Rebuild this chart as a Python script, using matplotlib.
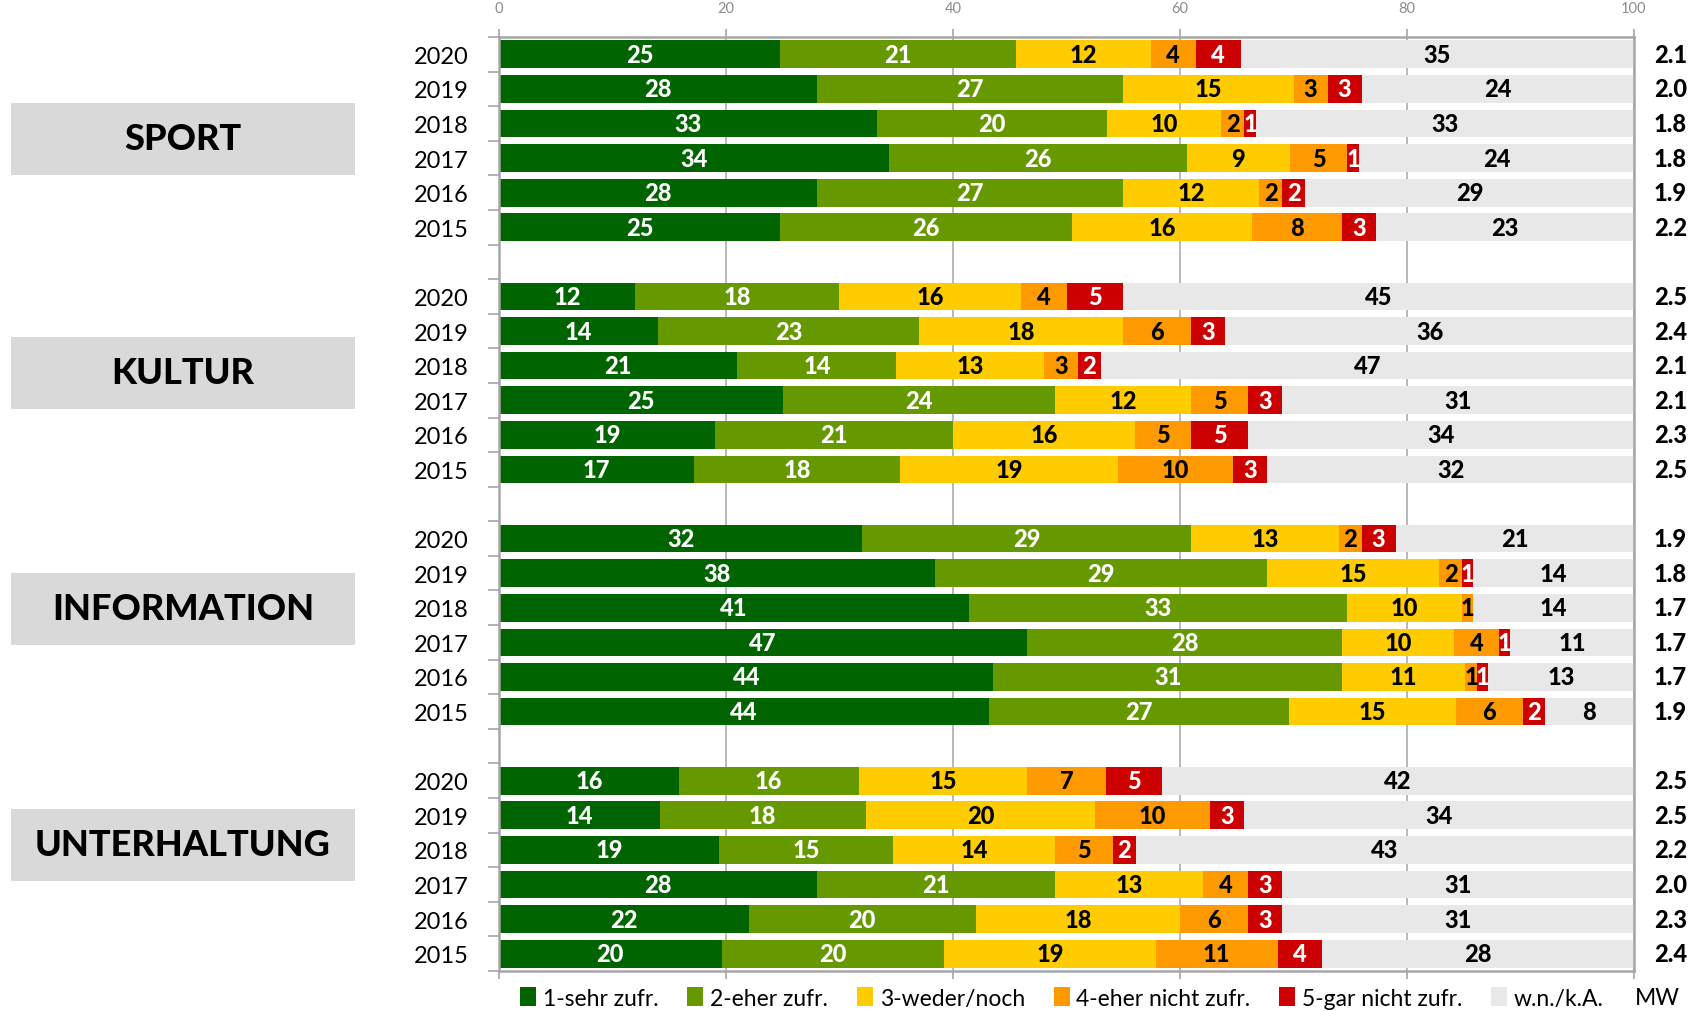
import numpy as np
import matplotlib.pyplot as plt
from matplotlib.patches import Rectangle, Patch

plt.rcParams['font.family'] = ['Lato', 'DejaVu Sans']

# answer categories and colours
answers = ['1-sehr zufr.', '2-eher zufr.', '3-weder/noch', '4-eher nicht zufr.',
           '5-gar nicht zufr.', 'w.n./k.A.']
colors = ['#006400', '#669900', '#ffcc00', '#ff9900', '#cc0000', '#e8e8e8']
text_colors = ['white', 'white', 'black', 'black', 'white', 'black']

groups = ['SPORT', 'KULTUR', 'INFORMATION', 'UNTERHALTUNG']
years = ['2020', '2019', '2018', '2017', '2016', '2015']

sport = [[25, 21, 12, 4, 4, 35],
         [28, 27, 15, 3, 3, 24],
         [33, 20, 10, 2, 1, 33],
         [34, 26, 9, 5, 1, 24],
         [28, 27, 12, 2, 2, 29],
         [25, 26, 16, 8, 3, 23]]
kultur = [[12, 18, 16, 4, 5, 45],
          [14, 23, 18, 6, 3, 36],
          [21, 14, 13, 3, 2, 47],
          [25, 24, 12, 5, 3, 31],
          [19, 21, 16, 5, 5, 34],
          [17, 18, 19, 10, 3, 32]]
information = [[32, 29, 13, 2, 3, 21],
               [38, 29, 15, 2, 1, 14],
               [41, 33, 10, 1, 0, 14],
               [47, 28, 10, 4, 1, 11],
               [44, 31, 11, 1, 1, 13],
               [44, 27, 15, 6, 2, 8]]
unterhaltung = [[16, 16, 15, 7, 5, 42],
                [14, 18, 20, 10, 3, 34],
                [19, 15, 14, 5, 2, 43],
                [28, 21, 13, 4, 3, 31],
                [22, 20, 18, 6, 3, 31],
                [20, 20, 19, 11, 4, 28]]

mw_sport = [2.1, 2.0, 1.8, 1.8, 1.9, 2.2]
mw_kultur = [2.5, 2.4, 2.1, 2.1, 2.3, 2.5]
mw_information = [1.9, 1.8, 1.7, 1.7, 1.7, 1.9]
mw_unterhaltung = [2.5, 2.5, 2.2, 2.0, 2.3, 2.4]

all_data = [sport, kultur, information, unterhaltung]
all_mw = [mw_sport, mw_kultur, mw_information, mw_unterhaltung]

fig = plt.figure(figsize=(16.9, 10.12), dpi=100)
W, H = 1690, 1012
ax = fig.add_axes([499 / W, 1 - 972 / H, (1634 - 499) / W, (972 - 38) / H])

ypos = []
ylabels = []
row = 0
for g, data in enumerate(all_data):
    for i, vals in enumerate(data):
        vals = np.array(vals, dtype=float)
        widths = vals * 100.0 / vals.sum()
        left = 0.0
        for k in range(6):
            ax.barh(row, widths[k], left=left, height=0.8, color=colors[k],
                    edgecolor='none', zorder=2)
            if vals[k] > 0:
                ax.text(left + widths[k] / 2, row, '%d' % vals[k], ha='center',
                        va='center', fontsize=17, fontweight='black',
                        color=text_colors[k], zorder=3)
            left += widths[k]
        ax.text(103.2, row, '%.1f' % all_mw[g][i], ha='center', va='center',
                fontsize=17, fontweight='black', clip_on=False)
        ypos.append(row)
        ylabels.append(years[i])
        row += 1
    row += 1  # empty row between groups

ax.set_ylim(row - 1.5, -0.5)
ax.set_xlim(0, 100)
ax.set_yticks(ypos)
ax.set_yticklabels(ylabels, fontsize=17)
ax.set_yticks(np.arange(-0.5, row - 1, 1), minor=True)
ax.tick_params(axis='y', which='major', length=0, pad=22)
ax.tick_params(axis='y', which='minor', length=8, color='#a6a6a6', width=1.2)

ax.set_xticks(np.arange(0, 101, 20))
ax.tick_params(axis='x', top=True, bottom=True, labeltop=True, labelbottom=False,
               direction='out', length=6, color='#a6a6a6', width=1.2,
               labelsize=10.5, labelcolor='#8c8c8c', pad=10)
ax.grid(axis='x', color='#a6a6a6', linewidth=1.1, zorder=0)
ax.set_axisbelow(True)
for s in ax.spines.values():
    s.set_color('#a6a6a6')
    s.set_linewidth(1.8)

# group boxes on the left
box_centers = [140, 374, 610, 846]
for name, cy in zip(groups, box_centers):
    fig.patches.append(Rectangle((11 / W, 1 - (cy + 36) / H), 344 / W, 72 / H,
                                 transform=fig.transFigure, facecolor='#d9d9d9',
                                 edgecolor='none'))
    fig.text(183 / W, 1 - cy / H, name, ha='center', va='center',
             fontsize=26, fontweight='black')

# legend
handles = [Patch(facecolor=c, edgecolor='none') for c in colors]
fig.legend(handles, answers, loc='center', bbox_to_anchor=(1062 / W, 1 - 999 / H),
           ncol=6, frameon=False, fontsize=16.5, handlelength=0.7, handleheight=0.9,
           handletextpad=0.3, columnspacing=1.25, borderpad=0)
fig.text(1657 / W, 1 - 999 / H, 'MW', ha='center', va='center', fontsize=16.5)

fig.savefig('out.png', dpi=100)
